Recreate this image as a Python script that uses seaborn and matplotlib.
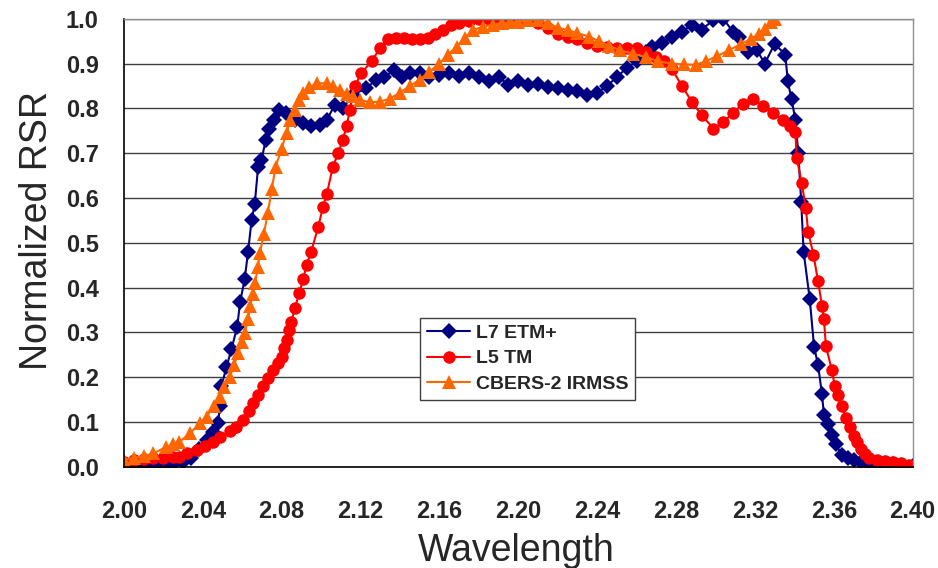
import matplotlib
matplotlib.use("Agg")
import matplotlib.pyplot as plt
import seaborn as sns

# relative spectral response
l7_wl = [2.000, 2.005, 2.010, 2.015, 2.020, 2.025, 2.030, 2.034, 2.038, 2.042,
         2.045, 2.0478, 2.0487, 2.0495, 2.052, 2.0546, 2.0575, 2.059, 2.0613, 2.063,
         2.0648, 2.0664, 2.0681, 2.0698, 2.072, 2.0737, 2.076, 2.0787, 2.082, 2.0867,
         2.091, 2.095, 2.0994, 2.103, 2.107, 2.111, 2.116, 2.123, 2.128, 2.132,
         2.137, 2.141, 2.145, 2.150, 2.155, 2.160, 2.165, 2.170, 2.175, 2.180,
         2.185, 2.190, 2.195, 2.200, 2.205, 2.210, 2.215, 2.220, 2.225, 2.230,
         2.235, 2.240, 2.245, 2.250, 2.255, 2.260, 2.265, 2.268, 2.273, 2.278,
         2.283, 2.288, 2.293, 2.299, 2.304, 2.309, 2.312, 2.3165, 2.321, 2.325,
         2.330, 2.3354, 2.3367, 2.3386, 2.3405, 2.342, 2.3435, 2.3447, 2.3478, 2.350,
         2.352, 2.354, 2.355, 2.357, 2.359, 2.361, 2.364, 2.367, 2.370, 2.374,
         2.378, 2.382, 2.386, 2.390, 2.395, 2.400]
l7_rsr = [0.000, 0.000, 0.002, 0.003, 0.004, 0.006, 0.010, 0.020, 0.040, 0.060,
          0.078, 0.097, 0.135, 0.180, 0.222, 0.263, 0.313, 0.369, 0.419, 0.480,
          0.551, 0.587, 0.670, 0.685, 0.730, 0.754, 0.775, 0.797, 0.790, 0.775,
          0.767, 0.760, 0.763, 0.775, 0.808, 0.800, 0.830, 0.845, 0.864, 0.870,
          0.885, 0.870, 0.878, 0.880, 0.870, 0.875, 0.880, 0.872, 0.878, 0.870,
          0.862, 0.870, 0.853, 0.860, 0.852, 0.855, 0.848, 0.845, 0.840, 0.838,
          0.830, 0.835, 0.850, 0.870, 0.890, 0.905, 0.925, 0.938, 0.945, 0.960,
          0.970, 0.987, 0.975, 0.998, 1.000, 0.970, 0.960, 0.925, 0.930, 0.900,
          0.944, 0.920, 0.860, 0.820, 0.775, 0.700, 0.590, 0.480, 0.375, 0.268,
          0.228, 0.163, 0.116, 0.095, 0.071, 0.050, 0.027, 0.020, 0.015, 0.010,
          0.006, 0.008, 0.004, 0.006, 0.003, 0.002]

l5_wl = [2.000, 2.005, 2.010, 2.015, 2.020, 2.025, 2.028, 2.032, 2.037, 2.041,
         2.0453, 2.049, 2.0537, 2.057, 2.0605, 2.0635, 2.0656, 2.068, 2.0707, 2.073,
         2.0757, 2.078, 2.080, 2.0813, 2.0825, 2.084, 2.085, 2.0867, 2.089, 2.091,
         2.0927, 2.095, 2.0986, 2.101, 2.103, 2.106, 2.1087, 2.111, 2.113, 2.1146,
         2.117, 2.1205, 2.1256, 2.130, 2.134, 2.138, 2.142, 2.146, 2.150, 2.154,
         2.158, 2.162, 2.166, 2.170, 2.175, 2.180, 2.185, 2.190, 2.195, 2.200,
         2.205, 2.210, 2.215, 2.220, 2.225, 2.230, 2.235, 2.240, 2.245, 2.250,
         2.255, 2.260, 2.265, 2.270, 2.274, 2.278, 2.283, 2.288, 2.293, 2.299,
         2.304, 2.309, 2.314, 2.319, 2.324, 2.329, 2.334, 2.338, 2.3405, 2.3412,
         2.3437, 2.3458, 2.347, 2.3497, 2.352, 2.354, 2.355, 2.356, 2.359, 2.3605,
         2.362, 2.364, 2.366, 2.368, 2.370, 2.372, 2.374, 2.376, 2.378, 2.382,
         2.386, 2.390, 2.394, 2.398, 2.400]
l5_rsr = [0.012, 0.015, 0.017, 0.019, 0.020, 0.022, 0.023, 0.030, 0.038, 0.047,
          0.056, 0.066, 0.079, 0.090, 0.104, 0.125, 0.142, 0.160, 0.180, 0.198,
          0.216, 0.232, 0.246, 0.265, 0.283, 0.305, 0.324, 0.354, 0.388, 0.420,
          0.451, 0.480, 0.536, 0.580, 0.610, 0.670, 0.700, 0.730, 0.760, 0.797,
          0.849, 0.879, 0.905, 0.935, 0.955, 0.958, 0.958, 0.955, 0.955, 0.957,
          0.965, 0.975, 0.985, 0.990, 0.995, 1.000, 1.000, 1.000, 1.000, 0.998,
          0.998, 0.990, 0.980, 0.965, 0.960, 0.955, 0.945, 0.940, 0.938, 0.935,
          0.935, 0.935, 0.925, 0.915, 0.905, 0.887, 0.850, 0.815, 0.785, 0.755,
          0.770, 0.790, 0.810, 0.820, 0.805, 0.790, 0.775, 0.760, 0.748, 0.690,
          0.634, 0.578, 0.525, 0.473, 0.415, 0.360, 0.330, 0.270, 0.216, 0.180,
          0.160, 0.135, 0.110, 0.090, 0.070, 0.055, 0.040, 0.028, 0.020, 0.016,
          0.014, 0.012, 0.008, 0.004, 0.002]

cb_wl = [2.000, 2.005, 2.010, 2.015, 2.0216, 2.025, 2.028, 2.0335, 2.0385, 2.042,
         2.0455, 2.0487, 2.051, 2.0537, 2.056, 2.058, 2.060, 2.0613, 2.063, 2.064,
         2.0655, 2.0665, 2.068, 2.069, 2.071, 2.073, 2.075, 2.077, 2.080, 2.0825,
         2.0845, 2.0867, 2.089, 2.091, 2.094, 2.098, 2.103, 2.106, 2.1095, 2.113,
         2.116, 2.120, 2.125, 2.130, 2.135, 2.140, 2.145, 2.150, 2.155, 2.160,
         2.1645, 2.1687, 2.173, 2.177, 2.182, 2.187, 2.192, 2.196, 2.200, 2.205,
         2.210, 2.215, 2.220, 2.225, 2.230, 2.236, 2.241, 2.246, 2.2515, 2.258,
         2.265, 2.271, 2.278, 2.284, 2.290, 2.295, 2.301, 2.307, 2.313, 2.318,
         2.322, 2.325, 2.328, 2.330]
cb_rsr = [0.016, 0.020, 0.024, 0.030, 0.045, 0.050, 0.055, 0.075, 0.097, 0.112,
          0.135, 0.157, 0.178, 0.200, 0.228, 0.254, 0.278, 0.298, 0.330, 0.358,
          0.385, 0.410, 0.445, 0.477, 0.520, 0.566, 0.620, 0.670, 0.710, 0.745,
          0.775, 0.797, 0.818, 0.834, 0.847, 0.856, 0.856, 0.850, 0.842, 0.833,
          0.827, 0.818, 0.814, 0.815, 0.822, 0.835, 0.850, 0.864, 0.882, 0.900,
          0.920, 0.938, 0.958, 0.975, 0.982, 0.987, 0.990, 0.992, 0.993, 0.997,
          0.998, 0.990, 0.980, 0.975, 0.968, 0.960, 0.950, 0.940, 0.930, 0.922,
          0.914, 0.905, 0.900, 0.898, 0.897, 0.905, 0.917, 0.930, 0.944, 0.955,
          0.967, 0.978, 0.992, 1.000]

x_ticks = [2.00, 2.04, 2.08, 2.12, 2.16, 2.20, 2.24, 2.28, 2.32, 2.36, 2.40]
y_ticks = [0.0, 0.1, 0.2, 0.3, 0.4, 0.5, 0.6, 0.7, 0.8, 0.9, 1.0]

sns.set_theme(style="white")
plt.rcParams["font.family"] = ["Liberation Sans", "DejaVu Sans"]

fig = plt.figure(figsize=(9.38, 5.68), dpi=100)
ax = fig.add_axes([0.132, 0.178, 0.841, 0.789])

sns.lineplot(x=l7_wl, y=l7_rsr, ax=ax, sort=False, color="#000080", lw=1.5,
             marker="D", markersize=8.5, markeredgewidth=0, label="L7 ETM+")
sns.lineplot(x=l5_wl, y=l5_rsr, ax=ax, sort=False, color="#FF0000", lw=1.5,
             marker="o", markersize=9, markeredgewidth=0, label="L5 TM")
sns.lineplot(x=cb_wl, y=cb_rsr, ax=ax, sort=False, color="#FF6600", lw=1.5,
             marker="^", markersize=10.5, markeredgewidth=0, label="CBERS-2 IRMSS")

ax.set_xlim(2.00, 2.40)
ax.set_ylim(0.0, 1.0)
ax.set_xticks(x_ticks)
ax.set_yticks(y_ticks)
ax.set_xticklabels([f"{t:.2f}" for t in x_ticks])
ax.set_yticklabels([f"{t:.1f}" for t in y_ticks])
ax.tick_params(axis="x", direction="out", length=7, width=1, color="black",
               pad=17, labelsize=17)
ax.tick_params(axis="y", direction="out", length=7, width=1, color="black",
               pad=11, labelsize=17)
for lab in ax.get_xticklabels() + ax.get_yticklabels():
    lab.set_fontweight("bold")

ax.yaxis.grid(True, color="#404040", lw=1)
ax.xaxis.grid(False)
ax.set_axisbelow(True)
for side in ["left", "bottom"]:
    ax.spines[side].set_color("black")
    ax.spines[side].set_linewidth(1.2)
for side in ["right", "top"]:
    ax.spines[side].set_color("#909090")
    ax.spines[side].set_linewidth(1)

ax.set_xlabel("Wavelength", fontsize=27)
ax.set_ylabel("Normalized RSR", fontsize=27)
ax.xaxis.set_label_coords(0.498, -0.148)
ax.yaxis.set_label_coords(-0.087, 0.527)

leg = ax.legend(loc="upper left", bbox_to_anchor=(0.376, 0.333), frameon=True,
                fancybox=False, framealpha=1, edgecolor="#404040",
                prop={"weight": "bold", "size": 14}, handlelength=2.2,
                labelspacing=0.4, borderpad=0.35, handletextpad=0.3,
                borderaxespad=0)
leg.get_frame().set_linewidth(1)

fig.savefig("out.png", dpi=100)
